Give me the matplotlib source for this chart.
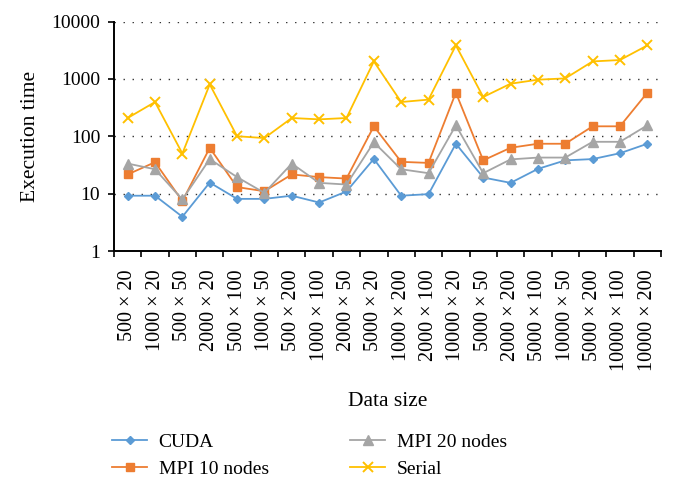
import matplotlib
matplotlib.use("Agg")
import matplotlib.pyplot as plt
import numpy as np

categories = ["500 × 20", "1000 × 20", "500 × 50", "2000 × 20", "500 × 100",
              "1000 × 50", "500 × 200", "1000 × 100", "2000 × 50", "5000 × 20",
              "1000 × 200", "2000 × 100", "10000 × 20", "5000 × 50", "2000 × 200",
              "5000 × 100", "10000 × 50", "5000 × 200", "10000 × 100", "10000 × 200"]

cuda = [9.2, 9.2, 3.95, 15.6, 8.1, 8.1, 9.2, 7.0, 10.9, 40.3,
        9.2, 9.8, 74, 19.1, 15.4, 27, 38, 40, 50.6, 74]
mpi10 = [21.6, 35.3, 7.4, 62.8, 13, 11, 21.6, 19.4, 18.3, 149,
         35.8, 34.3, 575, 38, 63, 74, 74, 149, 149, 575]
mpi20 = [33.4, 26.6, 7.9, 40, 19.4, 10.3, 33.4, 15.4, 14.4, 78.5,
         26.6, 22.7, 155, 22.7, 39.5, 42.5, 42.5, 80, 80, 155]
serial = [208, 395, 50, 802, 100, 93, 208, 197, 208, 2015,
          395, 435, 3830, 483, 824, 968, 1020, 2015, 2130, 3830]

yticks = [1, 10, 100, 1000, 10000]

plt.rcParams['font.family'] = ['Liberation Serif', 'DejaVu Serif']

fig = plt.figure(figsize=(6.74, 4.88), dpi=100)
ax = fig.add_axes([114/674, 1-251/488, (661-114)/674, (251-21.5)/488])

x = np.arange(len(categories))
lw = 1.3
ax.plot(x, cuda, color='#5B9BD5', marker='D', ms=4.5, lw=lw, label='CUDA')
ax.plot(x, mpi10, color='#ED7D31', marker='s', ms=6, lw=lw, label='MPI 10 nodes')
ax.plot(x, mpi20, color='#A5A5A5', marker='^', ms=6.5, lw=lw, label='MPI 20 nodes')
ax.plot(x, serial, color='#FFC000', marker='x', ms=7, mew=1.4, lw=lw, label='Serial')

ax.set_yscale('log')
ax.set_ylim(1, 10000)
ax.set_yticks(yticks)
ax.set_yticklabels([str(t) for t in yticks], fontsize=14)
ax.yaxis.set_minor_locator(matplotlib.ticker.NullLocator())
ax.set_xlim(-0.5, len(categories) - 0.5)
ax.set_xticks(x)
ax.set_xticklabels(categories, rotation=90, fontsize=14.5)
ax.set_xticks(np.arange(len(categories) + 1) - 0.5, minor=True)
ax.tick_params(axis='x', which='major', length=0, pad=13.5)
ax.tick_params(axis='x', which='minor', length=4.5, width=1.2, direction='out')
ax.tick_params(axis='y', which='major', length=4.5, width=1.2, pad=5.5)

ax.yaxis.grid(True, which='major', linestyle=(0, (1, 5.5)), color='#333333', lw=1.0)
ax.set_axisbelow(True)

for s in ['top', 'right']:
    ax.spines[s].set_visible(False)
for s in ['left', 'bottom']:
    ax.spines[s].set_linewidth(1.4)

ax.set_ylabel('Execution time', fontsize=15.5)
ax.yaxis.set_label_coords((30-114)/547, 0.5)
ax.set_xlabel('Data size', fontsize=15.5)
ax.xaxis.set_label_coords(0.5, (251-402)/229.5)
ax.xaxis.label.set_va('center')
ax.yaxis.label.set_va('center')

fig.legend(loc='upper left', bbox_to_anchor=(112/674, 1-433/488), ncol=2,
           frameon=False, fontsize=14, handlelength=1.8, handletextpad=0.6,
           columnspacing=4.2, labelspacing=0.5, borderpad=0, borderaxespad=0)

fig.savefig('out.png', dpi=100)
